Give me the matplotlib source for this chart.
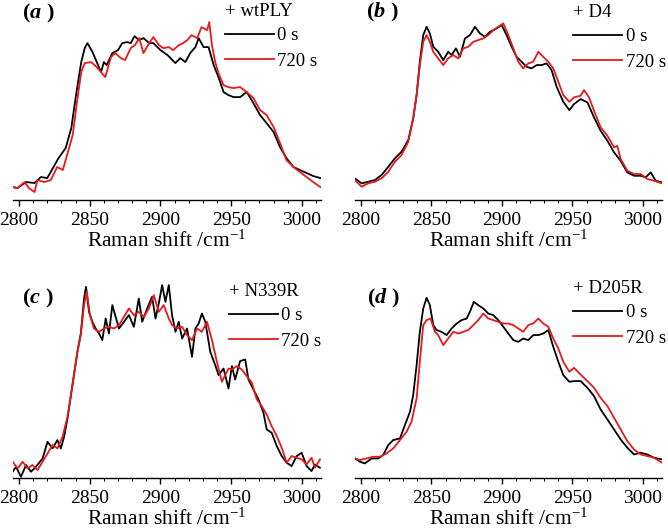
import matplotlib
matplotlib.use("Agg")
import matplotlib.pyplot as plt
from matplotlib.ticker import MultipleLocator

plt.rcParams['font.family'] = ['Liberation Serif', 'DejaVu Serif']
plt.rcParams['mathtext.fontset'] = 'custom'
plt.rcParams['mathtext.rm'] = 'Liberation Serif'
plt.rcParams['mathtext.bf'] = 'Liberation Serif:bold'
plt.rcParams['mathtext.it'] = 'Liberation Serif:italic:bold'

# ---- data (Raman shift in cm-1, intensity in arb. units) ----
# (a) + wtPLY
a0_w = [2795.5, 2799, 2805, 2811, 2815.5, 2820, 2824, 2828, 2833, 2837, 2840, 2844, 2846.5, 2848.4,
        2852, 2855, 2858, 2860, 2862, 2866, 2870, 2873, 2876.5, 2879, 2881.7, 2884.7, 2888, 2892,
        2895, 2900, 2905, 2910.6, 2914, 2917.6, 2921, 2924.7, 2927, 2930.5, 2934, 2937.6, 2941,
        2944.6, 2948, 2951.6, 2956.3, 2961, 2965.7, 2970.4, 2975, 2980, 2984.5, 2989, 2994, 2998.6,
        3003.3, 3008, 3013]
a0_i = [13, 12, 18, 17, 23, 22, 32, 42, 52, 72, 102, 138, 152, 157, 148, 138, 128, 138, 135, 147,
        150, 157, 158, 157, 164, 160, 162, 157, 157, 150, 145, 137, 142, 138, 147, 153, 162, 153,
        153, 135, 123, 108, 105, 103, 103, 108, 97, 85, 77, 68, 53, 42, 33, 30, 27, 24, 22]
a720_w = [2795.5, 2799, 2804, 2807, 2811, 2813, 2818, 2822.5, 2827, 2831, 2834, 2838, 2841, 2844,
          2846.5, 2851, 2855, 2861, 2865, 2868, 2872, 2875, 2879, 2882, 2885, 2888, 2892, 2895,
          2899, 2902, 2906, 2909, 2913, 2916, 2919, 2922, 2926, 2929, 2933, 2934.5, 2936.4, 2938.7,
          2941, 2944.6, 2948, 2951.6, 2956.3, 2961, 2965.7, 2970.4, 2975, 2980, 2984.5, 2989, 2994,
          2998.6, 3003.3, 3008, 3013]
a720_i = [13, 12, 18, 12, 8, 20, 18, 20, 33, 30, 45, 65, 98, 128, 137, 138, 133, 123, 143, 147,
          142, 140, 152, 155, 162, 147, 157, 163, 155, 152, 153, 150, 155, 157, 160, 165, 162, 173,
          170, 178, 155, 138, 127, 115, 113, 112, 113, 108, 102, 90, 85, 73, 57, 40, 33, 28, 23, 18, 13]

# (b) + D4
b0_w = [2795.7, 2800.5, 2805.2, 2809.9, 2814.7, 2819.4, 2824.1, 2828.8, 2833.6, 2837.1, 2839.5,
        2841.8, 2844.2, 2846.6, 2848.9, 2851.3, 2854.8, 2858.4, 2861.9, 2864.3, 2867.4, 2870.2,
        2873.8, 2877.3, 2880.9, 2884.4, 2888, 2891.5, 2896.2, 2899.8, 2903.3, 2906.9, 2910.4, 2914,
        2917.5, 2921, 2924.6, 2928.1, 2931.7, 2935.2, 2938.8, 2943.5, 2947.8, 2951.1, 2955.8,
        2960.6, 2965.3, 2970, 2974.8, 2979.5, 2984.2, 2988.9, 2993.7, 2998.4, 3001.9, 3005.5, 3009,
        3013.5]
b0_i = [21.7, 16.7, 18.3, 20, 25, 33.3, 41.7, 48.3, 60, 81.7, 105, 138.3, 165, 173.3, 166.7, 153.3,
        148.3, 140, 148.3, 145, 151.7, 143.3, 161.7, 165, 173.3, 166.7, 163.3, 168.3, 171.7, 175,
        165, 153.3, 143.3, 138.3, 133.3, 131.7, 135, 135, 136.7, 130, 113.3, 98.3, 90, 96, 101,
        97.7, 82.7, 69.3, 59.3, 47.7, 39.3, 27.7, 24.3, 24.3, 22.7, 27.7, 19.3, 17.7]
b720_w = [2795.7, 2800.5, 2805.2, 2809.9, 2814.7, 2819.4, 2824.1, 2828.8, 2833.6, 2837.1, 2839.5,
          2841.8, 2844.2, 2846.6, 2848.9, 2851.3, 2854.8, 2858.4, 2861.9, 2865.5, 2869, 2872.6,
          2876.1, 2879.7, 2883.2, 2886.8, 2890.3, 2893.9, 2897.4, 2901, 2904.5, 2908.1, 2911.6,
          2915.1, 2918.7, 2922.2, 2925.8, 2929.3, 2932.9, 2936.4, 2940, 2943.5, 2947.8, 2951.1,
          2955.8, 2958.2, 2961.8, 2965.3, 2970, 2974.8, 2979.5, 2981.8, 2984.2, 2988.9, 2993.7,
          2998.4, 3003.1, 3007.8, 3013.5]
b720_i = [20, 13.3, 16.7, 18.3, 21.7, 28.3, 38.3, 45, 58.3, 81.7, 105, 135, 158.3, 165, 158.3,
          148.3, 141.7, 135, 141.7, 145, 141.7, 151.7, 153.3, 158.3, 160, 161.7, 165, 170, 173.3,
          176.7, 165, 151.7, 138.3, 131.7, 136.7, 138.3, 148.3, 143.3, 138.3, 131.7, 118.3, 105,
          98.3, 102.7, 104.3, 110, 102.7, 89.3, 72.7, 64.3, 52.7, 54.3, 41, 29.3, 26, 26, 21, 19.3, 16.7]

# (c) + N339R
c0_w = [2795.5, 2797.9, 2801.4, 2805, 2808.5, 2812, 2816.7, 2820.2, 2823.7, 2827.2, 2829.6, 2831.9,
        2834.3, 2837.8, 2841.3, 2843.7, 2846, 2847.4, 2849.5, 2851.9, 2854.2, 2856.6, 2858.9,
        2861.3, 2863.6, 2866, 2868.3, 2870.7, 2874.2, 2877.7, 2881.2, 2884.7, 2887.1, 2890.6,
        2894.1, 2896.5, 2898.8, 2901.2, 2903.5, 2905.9, 2908.2, 2910.6, 2912.9, 2915.3, 2918.8,
        2922.3, 2924.7, 2927, 2929.3, 2931.7, 2935.2, 2938.7, 2941.1, 2944.6, 2948.1, 2950.5,
        2952.8, 2956.3, 2959.9, 2962.2, 2965.7, 2969.3, 2972.8, 2975.1, 2978.6, 2982.2, 2985.7,
        2989.2, 2992.7, 2996.3, 2999.8, 3003.3, 3006.8, 3009.2, 3012.7]
c0_i = [6, 11, 1, 12.7, 6, 11, 19.3, 36, 29.3, 37.7, 29.3, 41, 59.3, 92.7, 126, 144.3, 179.3, 191,
        166, 156, 149.3, 144.3, 137.7, 159.3, 144.3, 172.7, 161, 149.3, 156, 162.7, 151, 179.3, 156,
        169.3, 181, 159.3, 174.3, 192.7, 176, 192.7, 162.7, 146, 156, 139.3, 149.3, 121, 149.3,
        154.3, 164.3, 156, 126, 112.7, 102.7, 109.3, 89.3, 111.7, 98.3, 116.7, 118.3, 98.3, 88.3,
        78.3, 65, 48.3, 45, 31.7, 21.7, 15, 11.7, 21.7, 25, 11.7, 6.7, 13.3, 10]
c720_w = [2795.5, 2799.1, 2802.6, 2806.1, 2809.6, 2813.1, 2816.7, 2820.2, 2823.7, 2827.2, 2830.8,
          2834.3, 2837.8, 2841.3, 2843.7, 2846, 2847.9, 2850.2, 2853, 2856.6, 2860.1, 2863.6,
          2867.1, 2870.7, 2874.2, 2877.7, 2881.2, 2884.7, 2888.3, 2891.8, 2895.3, 2898.8, 2902.3,
          2905.9, 2908.2, 2911.7, 2915.3, 2918.8, 2922.3, 2925.8, 2929.3, 2932.9, 2936.4, 2939.9,
          2943.4, 2948.1, 2950.5, 2954, 2957.5, 2961, 2964.6, 2968.1, 2971.6, 2975.1, 2978.6,
          2982.2, 2985.7, 2989.2, 2992.7, 2996.3, 2999.8, 3003.3, 3006.8, 3009.2, 3012.7]
c720_i = [16, 9.3, 16, 9.3, 12.7, 7.7, 16, 24.3, 32.7, 29.3, 41, 61, 92.7, 126, 142.7, 172.7, 186,
          162.7, 149.3, 146, 149.3, 151, 149.3, 152.7, 161, 169.3, 162.7, 166, 161, 169.3, 182.7,
          166, 172.7, 159.3, 152.7, 149.3, 151, 142.7, 137.7, 149.3, 146, 156, 137.7, 116, 96,
          109.3, 108.3, 111.7, 108.3, 101.7, 95, 78.3, 71.7, 63.3, 51.7, 41.7, 30, 15, 21.7, 20,
          18.3, 13.3, 20, 10, 18.3]

# (d) + D205R
d0_w = [2795.8, 2799.3, 2802.8, 2807.6, 2812.3, 2815.8, 2819.4, 2822.9, 2827.7, 2831.2, 2834.8,
        2837.1, 2839.5, 2841.8, 2844.2, 2846.6, 2848.9, 2851.3, 2853.7, 2857.2, 2860.8, 2864.3,
        2867.9, 2871.4, 2875, 2877.3, 2880.1, 2883.2, 2886.8, 2890.3, 2893.9, 2897.4, 2901, 2904.5,
        2908.1, 2911.6, 2915.1, 2918.7, 2922.2, 2925.8, 2929.3, 2932.9, 2936.4, 2940, 2943.5,
        2947.8, 2951.1, 2955.8, 2960.6, 2965.3, 2970, 2974.8, 2979.5, 2984.2, 2988.9, 2993.7,
        2998.4, 3003.1, 3007.8, 3013.5]
d0_i = [19.3, 16, 14.3, 19.3, 19.3, 22.7, 32.7, 37.7, 39.3, 52.7, 66, 82.7, 112.7, 146, 169.3, 180,
        172.7, 152.7, 147.7, 146, 142.7, 149.3, 154.3, 157.7, 159.3, 166, 176, 172.7, 169.3, 164.3,
        162.7, 157.7, 151, 144.3, 137.7, 136, 139.3, 137.7, 142.7, 142.7, 144.3, 147.7, 131, 116,
        102.7, 96, 96.7, 96.7, 90, 81.7, 68.3, 58.3, 48.3, 38.3, 30, 23.3, 25, 23.3, 20, 18.3]
d720_w = [2795.8, 2799.3, 2804, 2808.7, 2813.5, 2818.2, 2822.9, 2827.7, 2832.4, 2835.9, 2839.5,
          2841.8, 2844.2, 2846.6, 2849.4, 2852.5, 2854.8, 2858.4, 2861.9, 2865.5, 2869, 2872.6,
          2876.1, 2879.7, 2883.2, 2886.8, 2890.3, 2893.9, 2897.4, 2901, 2904.5, 2908.1, 2911.6,
          2915.1, 2918.7, 2922.2, 2925.8, 2929.3, 2932.9, 2936.4, 2940, 2943.5, 2947.8, 2951.1,
          2955.8, 2960.6, 2965.3, 2970, 2974.8, 2979.5, 2984.2, 2988.9, 2993.7, 2998.4, 3003.1,
          3007.8, 3013.5]
d720_i = [19.3, 17.7, 19.3, 21, 21, 24.3, 29.3, 37.7, 46, 56, 79.3, 116, 152.7, 157.7, 159.3, 146,
          142.7, 132.7, 139.3, 146, 144.3, 146, 147.7, 152.7, 157.7, 164.3, 159.3, 157.7, 156,
          154.3, 154.3, 152.7, 149.3, 146, 152.7, 154.3, 159.3, 154.3, 151, 139.3, 129.3, 116, 106,
          110, 103.3, 96.7, 90, 80, 71.7, 60, 48.3, 36.7, 28.3, 23.3, 21.7, 20, 15]

letters = ['a', 'b', 'c', 'd']
samples = ['+ wtPLY', '+ D4', '+ N339R', '+ D205R']
times = ['0 s', '720 s']

panels = [
    (a0_w, a0_i, a720_w, a720_i),
    (b0_w, b0_i, b720_w, b720_i),
    (c0_w, c0_i, c720_w, c720_i),
    (d0_w, d0_i, d720_w, d720_i),
]

# axes boxes in figure fraction
boxes = [
    [0.0195, 0.624, 0.4611, 0.372],
    [0.5314, 0.624, 0.4596, 0.372],
    [0.0195, 0.102, 0.4611, 0.372],
    [0.5314, 0.102, 0.4596, 0.372],
]
label_pos = [(0.03, 0.944), (0.036, 0.95), (0.03, 0.908), (0.039, 0.908)]
legend_pos = [(0.688, 0.995), (0.711, 0.99), (0.701, 0.983), (0.711, 0.998)]

fig = plt.figure(figsize=(6.68, 5.32), dpi=100)

for k in range(4):
    ax = fig.add_axes(boxes[k])
    w0, i0, w1, i1 = panels[k]
    ax.plot(w0, i0, color='black', lw=1.3, label=times[0])
    ax.plot(w1, i1, color='#e41a1c', lw=1.3, label=times[1])

    ax.set_xlim(2795.8, 3013.5)
    ax.set_ylim(0, 198)
    for s in ['left', 'right', 'top']:
        ax.spines[s].set_visible(False)
    ax.spines['bottom'].set_linewidth(1.0)
    ax.set_yticks([])
    ax.xaxis.set_major_locator(MultipleLocator(50))
    ax.xaxis.set_minor_locator(MultipleLocator(10))
    ax.tick_params(axis='x', which='major', direction='out', length=4, width=1,
                   labelsize=14, pad=4.5)
    ax.tick_params(axis='x', which='minor', direction='out', length=2.2, width=0.8)
    ax.set_xlabel(r'Raman shift /cm$^{-1}$', fontsize=15.5, labelpad=1.5)
    ax.patch.set_alpha(0)

    ax.text(label_pos[k][0], label_pos[k][1], r'$\mathbf{(}\mathit{%s}\ \mathbf{)}$' % letters[k],
            transform=ax.transAxes, fontsize=16, ha='left', va='center')

    leg = ax.legend(title=samples[k], loc='upper left', bbox_to_anchor=legend_pos[k],
                    frameon=False, fontsize=13.5, title_fontsize=13.5, alignment='left',
                    handlelength=2.6, handletextpad=0.2, labelspacing=0.45,
                    borderpad=0, borderaxespad=0)
    leg._legend_box.sep = 5

fig.savefig('out.png', dpi=100)
